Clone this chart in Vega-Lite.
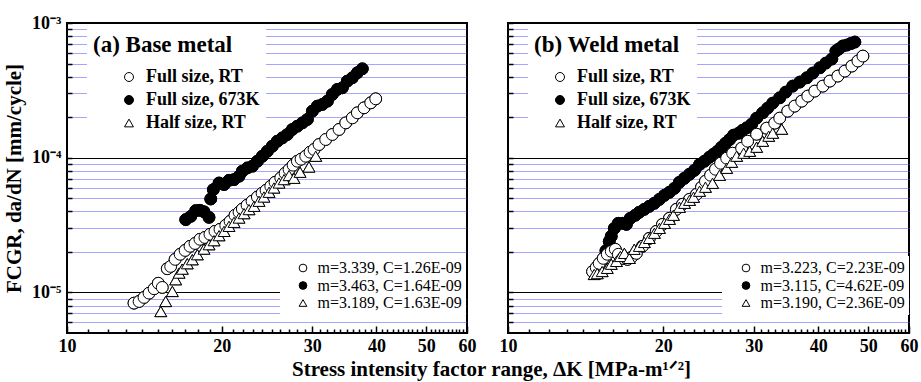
{
"$schema":"https://vega.github.io/schema/vega-lite/v6.json",
"padding":{"left":2,"top":13,"right":5,"bottom":5},
"config":{
 "font":"Liberation Serif",
 "view":{"stroke":"black","strokeWidth":2},
 "axis":{"labelFont":"Liberation Serif","labelFontWeight":"bold","labelFontSize":18,"labelColor":"black","titleFont":"Liberation Serif","titleFontWeight":"bold","titleFontSize":21,"titleColor":"black","domain":false,"tickColor":"black","tickWidth":1.5,"labelFlush":false,"labelOverlap":false},
 "legend":{"labelFont":"Liberation Serif","titleFont":"Liberation Serif","labelColor":"black","titleColor":"black","symbolStrokeWidth":1}
},
"datasets":{
"base":[
{"series":"Full size, 673K","K":17.02,"rate":3.47e-5},{"series":"Full size, 673K","K":17.41,"rate":3.67e-5},{"series":"Full size, 673K","K":17.80,"rate":4.05e-5},{"series":"Full size, 673K","K":18.14,"rate":4.07e-5},{"series":"Full size, 673K","K":18.47,"rate":3.97e-5},{"series":"Full size, 673K","K":18.89,"rate":3.61e-5},{"series":"Full size, 673K","K":19.04,"rate":4.94e-5},{"series":"Full size, 673K","K":19.26,"rate":5.80e-5},{"series":"Full size, 673K","K":19.76,"rate":6.49e-5},{"series":"Full size, 673K","K":20.21,"rate":6.32e-5},{"series":"Full size, 673K","K":20.66,"rate":6.80e-5},{"series":"Full size, 673K","K":21.13,"rate":6.88e-5},{"series":"Full size, 673K","K":21.61,"rate":7.29e-5},{"series":"Full size, 673K","K":21.93,"rate":7.94e-5},{"series":"Full size, 673K","K":22.43,"rate":8.40e-5},{"series":"Full size, 673K","K":22.94,"rate":8.65e-5},{"series":"Full size, 673K","K":23.46,"rate":9.42e-5},{"series":"Full size, 673K","K":23.99,"rate":1.026e-4},{"series":"Full size, 673K","K":24.53,"rate":1.117e-4},{"series":"Full size, 673K","K":25.08,"rate":1.217e-4},{"series":"Full size, 673K","K":25.65,"rate":1.326e-4},{"series":"Full size, 673K","K":26.23,"rate":1.403e-4},{"series":"Full size, 673K","K":26.83,"rate":1.487e-4},{"series":"Full size, 673K","K":27.44,"rate":1.621e-4},{"series":"Full size, 673K","K":28.06,"rate":1.714e-4},{"series":"Full size, 673K","K":28.70,"rate":1.814e-4},{"series":"Full size, 673K","K":29.35,"rate":1.923e-4},{"series":"Full size, 673K","K":30.01,"rate":2.216e-4},{"series":"Full size, 673K","K":30.69,"rate":2.415e-4},{"series":"Full size, 673K","K":31.39,"rate":2.486e-4},{"series":"Full size, 673K","K":32.10,"rate":2.630e-4},{"series":"Full size, 673K","K":32.82,"rate":2.950e-4},{"series":"Full size, 673K","K":33.57,"rate":3.213e-4},{"series":"Full size, 673K","K":34.33,"rate":3.304e-4},{"series":"Full size, 673K","K":35.10,"rate":3.705e-4},{"series":"Full size, 673K","K":35.90,"rate":3.92e-4},{"series":"Full size, 673K","K":36.71,"rate":4.27e-4},{"series":"Full size, 673K","K":37.54,"rate":4.57e-4},
{"series":"Full size, RT","K":13.50,"rate":8.33e-6},{"series":"Full size, RT","K":13.81,"rate":8.57e-6},{"series":"Full size, RT","K":14.12,"rate":9.18e-6},{"series":"Full size, RT","K":14.44,"rate":9.88e-6},{"series":"Full size, RT","K":14.77,"rate":1.065e-5},{"series":"Full size, RT","K":15.05,"rate":1.17e-5},{"series":"Full size, RT","K":15.32,"rate":1.09e-5},{"series":"Full size, RT","K":15.67,"rate":1.50e-5},{"series":"Full size, RT","K":15.91,"rate":1.56e-5},{"series":"Full size, RT","K":16.23,"rate":1.76e-5},{"series":"Full size, RT","K":16.60,"rate":1.92e-5},{"series":"Full size, RT","K":16.97,"rate":2.05e-5},{"series":"Full size, RT","K":17.35,"rate":2.20e-5},{"series":"Full size, RT","K":17.74,"rate":2.31e-5},{"series":"Full size, RT","K":18.14,"rate":2.48e-5},{"series":"Full size, RT","K":18.55,"rate":2.56e-5},{"series":"Full size, RT","K":18.97,"rate":2.70e-5},{"series":"Full size, RT","K":19.40,"rate":2.84e-5},{"series":"Full size, RT","K":19.84,"rate":2.94e-5},{"series":"Full size, RT","K":20.36,"rate":3.15e-5},{"series":"Full size, RT","K":20.76,"rate":3.37e-5},{"series":"Full size, RT","K":21.22,"rate":3.74e-5},{"series":"Full size, RT","K":21.61,"rate":3.94e-5},{"series":"Full size, RT","K":21.93,"rate":4.16e-5},{"series":"Full size, RT","K":22.40,"rate":4.44e-5},{"series":"Full size, RT","K":22.91,"rate":4.75e-5},{"series":"Full size, RT","K":23.46,"rate":5.11e-5},{"series":"Full size, RT","K":23.96,"rate":5.45e-5},{"series":"Full size, RT","K":24.39,"rate":5.73e-5},{"series":"Full size, RT","K":24.91,"rate":6.14e-5},{"series":"Full size, RT","K":25.39,"rate":6.57e-5},{"series":"Full size, RT","K":26.05,"rate":7.08e-5},{"series":"Full size, RT","K":26.56,"rate":7.67e-5},{"series":"Full size, RT","K":27.04,"rate":8.17e-5},{"series":"Full size, RT","K":27.53,"rate":8.80e-5},{"series":"Full size, RT","K":28.06,"rate":9.42e-5},{"series":"Full size, RT","K":28.53,"rate":9.75e-5},{"series":"Full size, RT","K":29.13,"rate":1.026e-4},{"series":"Full size, RT","K":29.70,"rate":1.099e-4},{"series":"Full size, RT","K":30.24,"rate":1.151e-4},{"series":"Full size, RT","K":30.92,"rate":1.253e-4},{"series":"Full size, RT","K":31.86,"rate":1.365e-4},{"series":"Full size, RT","K":32.82,"rate":1.487e-4},{"series":"Full size, RT","K":33.82,"rate":1.621e-4},{"series":"Full size, RT","K":34.85,"rate":1.814e-4},{"series":"Full size, RT","K":35.90,"rate":1.977e-4},{"series":"Full size, RT","K":36.71,"rate":2.154e-4},{"series":"Full size, RT","K":37.83,"rate":2.346e-4},{"series":"Full size, RT","K":38.98,"rate":2.555e-4},{"series":"Full size, RT","K":39.86,"rate":2.736e-4},
{"series":"Half size, RT","K":15.22,"rate":7.22e-6},{"series":"Half size, RT","K":15.56,"rate":8.57e-6},{"series":"Half size, RT","K":16.03,"rate":1.017e-5},{"series":"Half size, RT","K":16.27,"rate":1.243e-5},{"series":"Half size, RT","K":16.52,"rate":1.392e-5},{"series":"Half size, RT","K":16.76,"rate":1.49e-5},{"series":"Half size, RT","K":17.14,"rate":1.634e-5},{"series":"Half size, RT","K":17.53,"rate":1.75e-5},{"series":"Half size, RT","K":17.93,"rate":1.907e-5},{"series":"Half size, RT","K":18.47,"rate":2.098e-5},{"series":"Half size, RT","K":18.89,"rate":2.262e-5},{"series":"Half size, RT","K":19.32,"rate":2.423e-5},{"series":"Half size, RT","K":19.76,"rate":2.64e-5},{"series":"Half size, RT","K":20.21,"rate":2.84e-5},{"series":"Half size, RT","K":20.66,"rate":3.095e-5},{"series":"Half size, RT","K":21.13,"rate":3.314e-5},{"series":"Half size, RT","K":21.61,"rate":3.568e-5},{"series":"Half size, RT","K":22.10,"rate":3.847e-5},{"series":"Half size, RT","K":22.60,"rate":4.121e-5},{"series":"Half size, RT","K":23.11,"rate":4.36e-5},{"series":"Half size, RT","K":23.63,"rate":4.75e-5},{"series":"Half size, RT","K":24.16,"rate":5.11e-5},{"series":"Half size, RT","K":24.72,"rate":5.54e-5},{"series":"Half size, RT","K":25.27,"rate":5.965e-5},{"series":"Half size, RT","K":25.85,"rate":6.49e-5},{"series":"Half size, RT","K":26.44,"rate":6.88e-5},{"series":"Half size, RT","K":27.04,"rate":7.375e-5},{"series":"Half size, RT","K":27.64,"rate":7.04e-5},{"series":"Half size, RT","K":28.40,"rate":7.80e-5},{"series":"Half size, RT","K":29.56,"rate":8.54e-5},{"series":"Half size, RT","K":30.47,"rate":1.026e-4}
],
"weld":[
{"series":"Full size, 673K","K":15.49,"rate":2.04e-5},{"series":"Full size, 673K","K":15.72,"rate":2.39e-5},{"series":"Full size, 673K","K":15.86,"rate":2.61e-5},{"series":"Full size, 673K","K":16.08,"rate":2.99e-5},{"series":"Full size, 673K","K":16.37,"rate":3.26e-5},{"series":"Full size, 673K","K":16.67,"rate":3.26e-5},{"series":"Full size, 673K","K":16.97,"rate":3.20e-5},{"series":"Full size, 673K","K":17.27,"rate":3.55e-5},{"series":"Full size, 673K","K":17.66,"rate":3.74e-5},{"series":"Full size, 673K","K":17.98,"rate":3.94e-5},{"series":"Full size, 673K","K":18.39,"rate":4.14e-5},{"series":"Full size, 673K","K":18.80,"rate":4.36e-5},{"series":"Full size, 673K","K":19.23,"rate":4.59e-5},{"series":"Full size, 673K","K":19.67,"rate":4.91e-5},{"series":"Full size, 673K","K":20.12,"rate":5.26e-5},{"series":"Full size, 673K","K":20.57,"rate":5.54e-5},{"series":"Full size, 673K","K":21.04,"rate":5.93e-5},{"series":"Full size, 673K","K":21.51,"rate":6.57e-5},{"series":"Full size, 673K","K":22.00,"rate":7.04e-5},{"series":"Full size, 673K","K":22.50,"rate":7.54e-5},{"series":"Full size, 673K","K":23.01,"rate":8.07e-5},{"series":"Full size, 673K","K":23.53,"rate":8.90e-5},{"series":"Full size, 673K","K":24.06,"rate":9.42e-5},{"series":"Full size, 673K","K":24.60,"rate":1.009e-4},{"series":"Full size, 673K","K":25.05,"rate":1.062e-4},{"series":"Full size, 673K","K":25.50,"rate":1.117e-4},{"series":"Full size, 673K","K":25.96,"rate":1.197e-4},{"series":"Full size, 673K","K":26.44,"rate":1.282e-4},{"series":"Full size, 673K","K":26.92,"rate":1.365e-4},{"series":"Full size, 673K","K":27.40,"rate":1.470e-4},{"series":"Full size, 673K","K":28.03,"rate":1.521e-4},{"series":"Full size, 673K","K":28.53,"rate":1.601e-4},{"series":"Full size, 673K","K":29.04,"rate":1.665e-4},{"series":"Full size, 673K","K":29.70,"rate":1.774e-4},{"series":"Full size, 673K","K":30.37,"rate":1.967e-4},{"series":"Full size, 673K","K":31.20,"rate":2.154e-4},{"series":"Full size, 673K","K":31.90,"rate":2.333e-4},{"series":"Full size, 673K","K":32.63,"rate":2.542e-4},{"series":"Full size, 673K","K":33.67,"rate":2.784e-4},{"series":"Full size, 673K","K":34.59,"rate":3.069e-4},{"series":"Full size, 673K","K":35.69,"rate":3.401e-4},{"series":"Full size, 673K","K":36.83,"rate":3.643e-4},{"series":"Full size, 673K","K":38.01,"rate":3.92e-4},{"series":"Full size, 673K","K":39.04,"rate":4.25e-4},{"series":"Full size, 673K","K":40.29,"rate":4.65e-4},{"series":"Full size, 673K","K":41.38,"rate":5.04e-4},{"series":"Full size, 673K","K":42.50,"rate":5.40e-4},{"series":"Full size, 673K","K":43.28,"rate":6.19e-4},{"series":"Full size, 673K","K":43.85,"rate":6.41e-4},{"series":"Full size, 673K","K":44.65,"rate":6.75e-4},{"series":"Full size, 673K","K":45.46,"rate":6.86e-4},{"series":"Full size, 673K","K":46.28,"rate":7.04e-4},{"series":"Full size, 673K","K":47.11,"rate":7.22e-4},
{"series":"Full size, RT","K":14.59,"rate":1.43e-5},{"series":"Full size, RT","K":14.83,"rate":1.53e-5},{"series":"Full size, RT","K":15.03,"rate":1.64e-5},{"series":"Full size, RT","K":15.30,"rate":1.79e-5},{"series":"Full size, RT","K":15.58,"rate":1.92e-5},{"series":"Full size, RT","K":15.86,"rate":2.02e-5},{"series":"Full size, RT","K":16.15,"rate":2.09e-5},{"series":"Full size, RT","K":16.37,"rate":1.92e-5},{"series":"Full size, RT","K":16.67,"rate":1.79e-5},{"series":"Full size, RT","K":17.05,"rate":1.76e-5},{"series":"Full size, RT","K":17.35,"rate":1.82e-5},{"series":"Full size, RT","K":17.74,"rate":1.95e-5},{"series":"Full size, RT","K":18.23,"rate":2.20e-5},{"series":"Full size, RT","K":18.80,"rate":2.52e-5},{"series":"Full size, RT","K":19.40,"rate":2.84e-5},{"series":"Full size, RT","K":19.94,"rate":3.20e-5},{"series":"Full size, RT","K":20.57,"rate":3.55e-5},{"series":"Full size, RT","K":21.22,"rate":4.14e-5},{"series":"Full size, RT","K":21.80,"rate":4.51e-5},{"series":"Full size, RT","K":22.50,"rate":4.91e-5},{"series":"Full size, RT","K":23.21,"rate":5.35e-5},{"series":"Full size, RT","K":23.74,"rate":6.04e-5},{"series":"Full size, RT","K":24.16,"rate":6.69e-5},{"series":"Full size, RT","K":24.72,"rate":7.41e-5},{"series":"Full size, RT","K":25.27,"rate":8.21e-5},{"series":"Full size, RT","K":25.85,"rate":9.10e-5},{"series":"Full size, RT","K":26.56,"rate":9.92e-5},{"series":"Full size, RT","K":27.28,"rate":1.080e-4},{"series":"Full size, RT","K":28.40,"rate":1.177e-4},{"series":"Full size, RT","K":29.17,"rate":1.326e-4},{"series":"Full size, RT","K":30.37,"rate":1.495e-4},{"series":"Full size, RT","K":31.76,"rate":1.657e-4},{"series":"Full size, RT","K":32.92,"rate":1.805e-4},{"series":"Full size, RT","K":33.67,"rate":1.967e-4},{"series":"Full size, RT","K":34.90,"rate":2.216e-4},{"series":"Full size, RT","K":36.01,"rate":2.415e-4},{"series":"Full size, RT","K":37.15,"rate":2.630e-4},{"series":"Full size, RT","K":38.17,"rate":2.866e-4},{"series":"Full size, RT","K":39.38,"rate":3.122e-4},{"series":"Full size, RT","K":40.83,"rate":3.40e-4},{"series":"Full size, RT","K":42.13,"rate":3.705e-4},{"series":"Full size, RT","K":43.66,"rate":4.036e-4},{"series":"Full size, RT","K":45.05,"rate":4.396e-4},{"series":"Full size, RT","K":46.48,"rate":4.79e-4},{"series":"Full size, RT","K":47.75,"rate":5.22e-4},{"series":"Full size, RT","K":48.83,"rate":5.68e-4},
{"series":"Half size, RT","K":14.70,"rate":1.36e-5},{"series":"Half size, RT","K":14.90,"rate":1.38e-5},{"series":"Half size, RT","K":15.23,"rate":1.43e-5},{"series":"Half size, RT","K":15.58,"rate":1.51e-5},{"series":"Half size, RT","K":15.86,"rate":1.62e-5},{"series":"Half size, RT","K":16.23,"rate":1.70e-5},{"series":"Half size, RT","K":16.52,"rate":1.85e-5},{"series":"Half size, RT","K":16.82,"rate":1.95e-5},{"series":"Half size, RT","K":17.20,"rate":1.79e-5},{"series":"Half size, RT","K":17.58,"rate":2.09e-5},{"series":"Half size, RT","K":17.98,"rate":2.20e-5},{"series":"Half size, RT","K":18.39,"rate":2.35e-5},{"series":"Half size, RT","K":18.80,"rate":2.52e-5},{"series":"Half size, RT","K":19.23,"rate":2.75e-5},{"series":"Half size, RT","K":19.67,"rate":2.99e-5},{"series":"Half size, RT","K":20.12,"rate":3.26e-5},{"series":"Half size, RT","K":20.57,"rate":3.49e-5},{"series":"Half size, RT","K":20.94,"rate":3.74e-5},{"series":"Half size, RT","K":21.51,"rate":4.29e-5},{"series":"Half size, RT","K":22.00,"rate":4.59e-5},{"series":"Half size, RT","K":22.50,"rate":4.83e-5},{"series":"Half size, RT","K":22.91,"rate":5.09e-5},{"series":"Half size, RT","K":23.53,"rate":5.64e-5},{"series":"Half size, RT","K":24.16,"rate":6.04e-5},{"series":"Half size, RT","K":24.94,"rate":6.46e-5},{"series":"Half size, RT","K":25.73,"rate":7.41e-5},{"series":"Half size, RT","K":26.56,"rate":8.35e-5},{"series":"Half size, RT","K":27.16,"rate":9.26e-5},{"series":"Half size, RT","K":27.77,"rate":1.026e-4},{"series":"Half size, RT","K":28.66,"rate":1.080e-4},{"series":"Half size, RT","K":29.44,"rate":1.117e-4},{"series":"Half size, RT","K":30.37,"rate":1.197e-4},{"series":"Half size, RT","K":31.20,"rate":1.326e-4},{"series":"Half size, RT","K":32.05,"rate":1.445e-4},{"series":"Half size, RT","K":32.63,"rate":1.521e-4},{"series":"Half size, RT","K":33.97,"rate":1.629e-4}
]
},
"spacing":41,
"bounds":"flush",
"resolve":{"scale":{"shape":"independent","fill":"independent","stroke":"independent"},"legend":{"shape":"independent","fill":"independent","stroke":"independent"}},
"hconcat":[
{
 "width":400,"height":310,
 "data":{"name":"base"},
 "transform":[{"lookup":"series","from":{"data":{"values":[{"series":"Full size, RT","fit":"m=3.339, C=1.26E-09"},{"series":"Full size, 673K","fit":"m=3.463, C=1.64E-09"},{"series":"Half size, RT","fit":"m=3.189, C=1.63E-09"}]},"key":"series","fields":["fit"]}}],
 "encoding":{
  "x":{"field":"K","type":"quantitative","scale":{"type":"log","domain":[10,60],"nice":false},
   "axis":{"values":[10,11,12,13,14,15,16,17,18,19,20,21,22,23,24,25,26,27,28,29,30,31,32,33,34,35,36,37,38,39,40,41,42,43,44,45,46,47,48,49,50,51,52,53,54,55,56,57,58,59,60],
    "labelExpr":"datum.value % 10 === 0 ? format(datum.value, 'd') : ''",
    "tickSize":{"condition":{"test":"datum.value % 10 === 0","value":-7},"value":-4},
    "labelPadding":11,"grid":false,
    "title":"Stress intensity factor range, ΔK [MPa-m¹ᐟ²]","titleX":424,"titleY":42,"titleBaseline":"alphabetic","titleAlign":"center"}},
  "y":{"field":"rate","type":"quantitative","scale":{"type":"log","domain":[0.000005,0.001],"nice":false},
   "axis":{"values":[0.000006,0.000007,0.000008,0.000009,0.00001,0.00002,0.00003,0.00004,0.00005,0.00006,0.00007,0.00008,0.00009,0.0001,0.0002,0.0003,0.0004,0.0005,0.0006,0.0007,0.0008,0.0009,0.001],
    "labelExpr":"datum.value === 0.001 ? '10⁻³' : datum.value === 0.0001 ? '10⁻⁴' : datum.value === 0.00001 ? '10⁻⁵' : ''",
    "tickSize":-5,"labelPadding":11,
    "grid":true,
    "gridColor":{"condition":{"test":"datum.value === 0.001 || datum.value === 0.0001 || datum.value === 0.00001","value":"black"},"value":"#4b4bff"},
    "gridDash":{"condition":{"test":"datum.value === 0.001 || datum.value === 0.0001 || datum.value === 0.00001","value":[]},"value":[1,1]},
    "gridWidth":1,"gridOpacity":1,
    "title":"FCGR, da/dN [mm/cycle]","titlePadding":7}}
 },
 "layer":[
  {"mark":{"type":"point","filled":true,"size":140,"strokeWidth":1,"opacity":1},
   "encoding":{
    "shape":{"field":"series","type":"nominal","scale":{"domain":["Full size, RT","Full size, 673K","Half size, RT"],"range":["circle","circle","triangle-up"]},
     "legend":{"title":"(a) Base metal","orient":"none","legendX":20,"legendY":5,"padding":6,"fillColor":"white","titleFontSize":23,"titleFontWeight":"bold","titlePadding":11,"labelFontSize":18,"labelFontWeight":"bold","symbolSize":80,"symbolOffset":27,"labelOffset":8,"rowPadding":5}},
    "fill":{"field":"series","type":"nominal","scale":{"domain":["Full size, RT","Full size, 673K","Half size, RT"],"range":["white","black","white"]},
     "legend":{"title":"(a) Base metal","orient":"none","legendX":20,"legendY":5,"padding":6,"fillColor":"white","titleFontSize":23,"titleFontWeight":"bold","titlePadding":11,"labelFontSize":18,"labelFontWeight":"bold","symbolSize":80,"symbolOffset":27,"labelOffset":8,"rowPadding":5}},
    "stroke":{"field":"series","type":"nominal","scale":{"domain":["Full size, RT","Full size, 673K","Half size, RT"],"range":["black","black","black"]},
     "legend":{"title":"(a) Base metal","orient":"none","legendX":20,"legendY":5,"padding":6,"fillColor":"white","titleFontSize":23,"titleFontWeight":"bold","titlePadding":11,"labelFontSize":18,"labelFontWeight":"bold","symbolSize":80,"symbolOffset":27,"labelOffset":8,"rowPadding":5}}
   }},
  {"mark":{"type":"point","filled":true,"size":140,"strokeWidth":1,"opacity":1},
   "encoding":{
    "shape":{"field":"fit","type":"nominal","scale":{"domain":["m=3.339, C=1.26E-09","m=3.463, C=1.64E-09","m=3.189, C=1.63E-09"],"range":["circle","circle","triangle-up"]},
     "legend":{"title":null,"orient":"none","legendX":213,"legendY":233,"padding":4,"fillColor":"white","labelFontSize":16,"labelFontWeight":"normal","symbolSize":60,"symbolOffset":11,"labelOffset":6.5,"rowPadding":1.5}},
    "fill":{"field":"fit","type":"nominal","scale":{"domain":["m=3.339, C=1.26E-09","m=3.463, C=1.64E-09","m=3.189, C=1.63E-09"],"range":["white","black","white"]},
     "legend":{"title":null,"orient":"none","legendX":213,"legendY":233,"padding":4,"fillColor":"white","labelFontSize":16,"labelFontWeight":"normal","symbolSize":60,"symbolOffset":11,"labelOffset":6.5,"rowPadding":1.5}},
    "stroke":{"field":"fit","type":"nominal","scale":{"domain":["m=3.339, C=1.26E-09","m=3.463, C=1.64E-09","m=3.189, C=1.63E-09"],"range":["black","black","black"]},
     "legend":{"title":null,"orient":"none","legendX":213,"legendY":233,"padding":4,"fillColor":"white","labelFontSize":16,"labelFontWeight":"normal","symbolSize":60,"symbolOffset":11,"labelOffset":6.5,"rowPadding":1.5}}
   }}
 ],
 "resolve":{"scale":{"shape":"independent","fill":"independent","stroke":"independent"},"legend":{"shape":"independent","fill":"independent","stroke":"independent"}}
},
{
 "width":401,"height":310,
 "data":{"name":"weld"},
 "transform":[{"lookup":"series","from":{"data":{"values":[{"series":"Full size, RT","fit":"m=3.223, C=2.23E-09"},{"series":"Full size, 673K","fit":"m=3.115, C=4.62E-09"},{"series":"Half size, RT","fit":"m=3.190, C=2.36E-09"}]},"key":"series","fields":["fit"]}}],
 "encoding":{
  "x":{"field":"K","type":"quantitative","scale":{"type":"log","domain":[10,60],"nice":false},
   "axis":{"values":[10,11,12,13,14,15,16,17,18,19,20,21,22,23,24,25,26,27,28,29,30,31,32,33,34,35,36,37,38,39,40,41,42,43,44,45,46,47,48,49,50,51,52,53,54,55,56,57,58,59,60],
    "labelExpr":"datum.value % 10 === 0 ? format(datum.value, 'd') : ''",
    "tickSize":{"condition":{"test":"datum.value % 10 === 0","value":-7},"value":-4},
    "labelPadding":11,"grid":false,"title":null}},
  "y":{"field":"rate","type":"quantitative","scale":{"type":"log","domain":[0.000005,0.001],"nice":false},
   "axis":{"values":[0.000006,0.000007,0.000008,0.000009,0.00001,0.00002,0.00003,0.00004,0.00005,0.00006,0.00007,0.00008,0.00009,0.0001,0.0002,0.0003,0.0004,0.0005,0.0006,0.0007,0.0008,0.0009,0.001],
    "labels":false,"tickSize":-5,
    "grid":true,
    "gridColor":{"condition":{"test":"datum.value === 0.001 || datum.value === 0.0001 || datum.value === 0.00001","value":"black"},"value":"#4b4bff"},
    "gridDash":{"condition":{"test":"datum.value === 0.001 || datum.value === 0.0001 || datum.value === 0.00001","value":[]},"value":[1,1]},
    "gridWidth":1,"gridOpacity":1,
    "title":null}}
 },
 "layer":[
  {"mark":{"type":"point","filled":true,"size":140,"strokeWidth":1,"opacity":1},
   "encoding":{
    "shape":{"field":"series","type":"nominal","scale":{"domain":["Full size, RT","Full size, 673K","Half size, RT"],"range":["circle","circle","triangle-up"]},
     "legend":{"title":"(b) Weld metal","orient":"none","legendX":20,"legendY":5,"padding":6,"fillColor":"white","titleFontSize":23,"titleFontWeight":"bold","titlePadding":11,"labelFontSize":18,"labelFontWeight":"bold","symbolSize":80,"symbolOffset":17,"labelOffset":8,"rowPadding":5}},
    "fill":{"field":"series","type":"nominal","scale":{"domain":["Full size, RT","Full size, 673K","Half size, RT"],"range":["white","black","white"]},
     "legend":{"title":"(b) Weld metal","orient":"none","legendX":20,"legendY":5,"padding":6,"fillColor":"white","titleFontSize":23,"titleFontWeight":"bold","titlePadding":11,"labelFontSize":18,"labelFontWeight":"bold","symbolSize":80,"symbolOffset":17,"labelOffset":8,"rowPadding":5}},
    "stroke":{"field":"series","type":"nominal","scale":{"domain":["Full size, RT","Full size, 673K","Half size, RT"],"range":["black","black","black"]},
     "legend":{"title":"(b) Weld metal","orient":"none","legendX":20,"legendY":5,"padding":6,"fillColor":"white","titleFontSize":23,"titleFontWeight":"bold","titlePadding":11,"labelFontSize":18,"labelFontWeight":"bold","symbolSize":80,"symbolOffset":17,"labelOffset":8,"rowPadding":5}}
   }},
  {"mark":{"type":"point","filled":true,"size":140,"strokeWidth":1,"opacity":1},
   "encoding":{
    "shape":{"field":"fit","type":"nominal","scale":{"domain":["m=3.223, C=2.23E-09","m=3.115, C=4.62E-09","m=3.190, C=2.36E-09"],"range":["circle","circle","triangle-up"]},
     "legend":{"title":null,"orient":"none","legendX":214,"legendY":233,"padding":4,"fillColor":"white","labelFontSize":16,"labelFontWeight":"normal","symbolSize":60,"symbolOffset":12,"labelOffset":6.5,"rowPadding":1.5}},
    "fill":{"field":"fit","type":"nominal","scale":{"domain":["m=3.223, C=2.23E-09","m=3.115, C=4.62E-09","m=3.190, C=2.36E-09"],"range":["white","black","white"]},
     "legend":{"title":null,"orient":"none","legendX":214,"legendY":233,"padding":4,"fillColor":"white","labelFontSize":16,"labelFontWeight":"normal","symbolSize":60,"symbolOffset":12,"labelOffset":6.5,"rowPadding":1.5}},
    "stroke":{"field":"fit","type":"nominal","scale":{"domain":["m=3.223, C=2.23E-09","m=3.115, C=4.62E-09","m=3.190, C=2.36E-09"],"range":["black","black","black"]},
     "legend":{"title":null,"orient":"none","legendX":214,"legendY":233,"padding":4,"fillColor":"white","labelFontSize":16,"labelFontWeight":"normal","symbolSize":60,"symbolOffset":12,"labelOffset":6.5,"rowPadding":1.5}}
   }}
 ],
 "resolve":{"scale":{"shape":"independent","fill":"independent","stroke":"independent"},"legend":{"shape":"independent","fill":"independent","stroke":"independent"}}
}
]
}
